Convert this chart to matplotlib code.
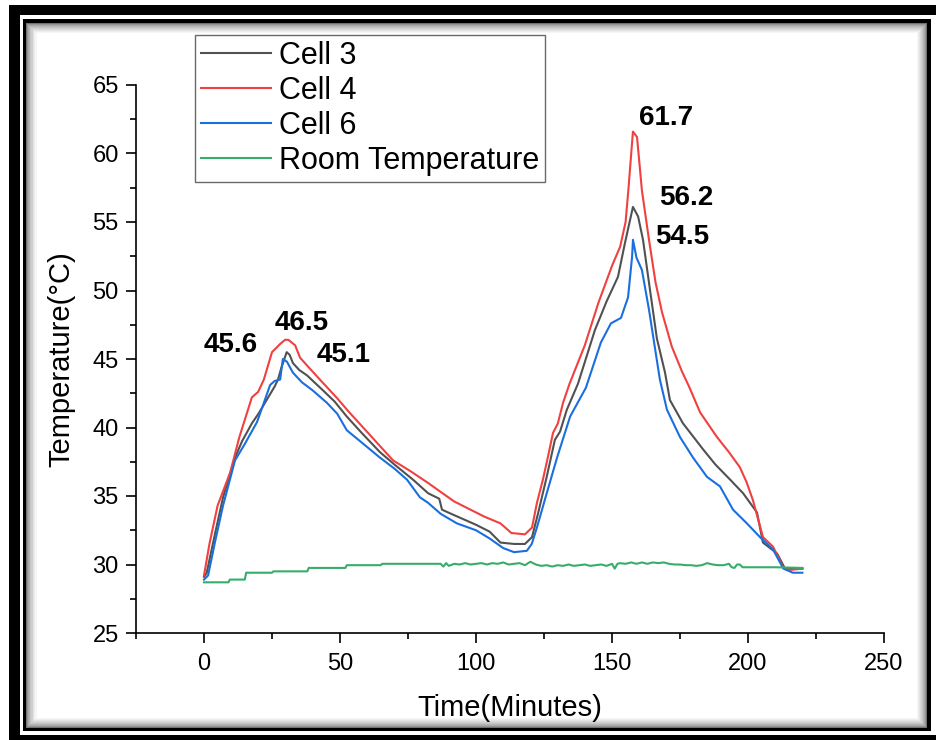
import matplotlib
matplotlib.use("Agg")
import matplotlib.pyplot as plt
from matplotlib.patches import Rectangle
from matplotlib.ticker import MultipleLocator

plt.rcParams['font.family'] = ['Liberation Sans', 'DejaVu Sans']

# ---- data ----
t_cell4 = [0, 2, 5, 9.6, 13, 17.6, 19.9, 22, 25, 28, 29.8, 31, 33.5, 35.3, 38, 42.6, 48.9, 53, 58.5,
           64, 69.5, 76, 82.4, 87, 92, 98, 103, 109, 113, 118, 120.6, 122.4, 124.6, 126.5, 128.3, 130.1,
           132, 134.4, 140, 145, 150, 153, 155, 156, 157.7, 159.2, 161, 163.6, 166, 168.4, 172, 175.7,
           178.3, 182.4, 188.6, 193, 197, 199.5, 201.8, 205.5, 209.2, 212.9, 215.4, 220]
cell4 = [29.2, 31.5, 34.3, 36.7, 39.3, 42.2, 42.6, 43.5, 45.5, 46.1, 46.4, 46.4, 46.0, 45.1, 44.5, 43.5, 42.15, 41.2, 40.0,
         38.8, 37.6, 36.8, 35.95, 35.3, 34.6, 34.0, 33.5, 33.0, 32.3, 32.2, 32.7, 34.5, 36.2, 37.9, 39.6, 40.3,
         41.8, 43.2, 46.0, 49.1, 51.8, 53.2, 55.0, 57.3, 61.6, 61.2, 57.3, 53.7, 50.6, 48.4, 45.9, 44.1,
         43.0, 41.1, 39.3, 38.2, 37.1, 36.0, 34.7, 32.0, 31.3, 29.8, 29.6, 29.7]

t_cell3 = [0, 1, 4, 7, 11.4, 14, 17.6, 20, 23, 26, 27.2, 28.5, 30.4, 31.5, 32.7, 35, 37.9, 43.8, 48, 52.5,
           58, 64.7, 70, 76.8, 82.4, 86.5, 87.5, 92, 100, 105, 109, 114, 118, 120.6, 122.9, 126, 129,
           130.9, 133.4, 137.5, 143.7, 148, 152.2, 154.8, 157.7, 159.6, 161.4, 164, 166.5, 169.5, 171.3,
           176.1, 183.5, 188, 193.4, 198.2, 203.3, 205.5, 210.7, 213.6, 220]
cell3 = [29.1, 29.4, 32.2, 34.9, 37.8, 39.0, 40.3, 41.0, 42.0, 43.0, 43.5, 44.4, 45.5, 45.3, 44.7, 44.2, 43.8, 42.7, 41.9, 40.8,
         39.6, 38.2, 37.3, 36.2, 35.2, 34.8, 34.0, 33.6, 32.9, 32.4, 31.6, 31.5, 31.5, 32.0, 33.8, 36.4, 39.1,
         39.7, 41.3, 43.2, 47.1, 49.2, 51.0, 53.5, 56.1, 55.4, 53.7, 50.0, 46.5, 44.0, 42.0,
         40.3, 38.4, 37.3, 36.2, 35.2, 33.8, 31.6, 30.8, 29.7, 29.7]

t_cell6 = [0, 1.5, 4, 7, 11.4, 15, 19.5, 22, 24.3, 26, 28, 29, 30.5, 32.7, 36, 40, 45.2, 49, 52.5, 58,
           64.7, 70, 74.6, 79.4, 82.4, 87, 93, 100, 105, 110, 114, 118.7, 120.5, 122.4, 126, 129.8, 134.6,
           140.4, 145.9, 149.6, 153.3, 155.9, 157.4, 157.7, 159, 161, 163.6, 167.6, 170.2, 175, 179.8,
           184.9, 189.7, 194.5, 199.6, 204.4, 209.2, 213, 216.5, 220]
cell6 = [28.9, 29.2, 31.6, 34.3, 37.6, 38.8, 40.4, 41.8, 43.1, 43.4, 43.5, 45.0, 44.8, 44.0, 43.3, 42.7, 41.8, 41.0, 39.8, 38.9,
         37.8, 37.0, 36.2, 34.9, 34.5, 33.7, 33.0, 32.5, 31.9, 31.2, 30.9, 31.0, 31.5, 32.7, 35.2, 37.8, 40.8,
         42.9, 46.2, 47.6, 48.0, 49.5, 52.5, 53.7, 52.4, 51.5, 48.6, 43.5, 41.3, 39.3, 37.8,
         36.4, 35.7, 34.0, 33.0, 32.0, 31.1, 29.7, 29.4, 29.4]

t_room = [0, 9, 9.5, 15, 15.5, 25, 25.5, 38, 38.5, 52, 52.5, 65, 65.5, 87, 88, 89, 90, 92, 94, 96, 98,
          100, 102, 104, 106, 108, 110, 112, 114, 116, 118, 120, 122, 124, 126, 128, 130, 132, 134, 136,
          138, 140, 142, 144, 146, 148, 150, 151, 152, 153, 155, 157, 159, 161, 163, 165, 167, 169, 171,
          173, 175, 177, 179, 181, 183, 185, 187, 189, 191, 193, 194, 195, 196, 197, 198, 210, 220]
room = [28.7, 28.7, 28.9, 28.9, 29.4, 29.4, 29.5, 29.5, 29.75, 29.75, 29.95, 29.95, 30.05, 30.05, 29.85, 30.1, 29.9, 30.05, 30.0, 30.1, 30.0,
        30.05, 30.1, 30.0, 30.1, 30.05, 30.15, 30.0, 30.05, 30.1, 29.95, 30.2, 30.0, 29.9, 29.95, 29.85, 29.95, 29.9, 30.0, 29.9,
        29.95, 30.0, 29.9, 29.95, 30.0, 29.9, 30.05, 29.7, 30.05, 30.1, 30.05, 30.15, 30.05, 30.15, 30.05, 30.15, 30.1, 30.15, 30.05,
        30.0, 30.0, 29.95, 29.95, 29.9, 29.95, 30.1, 30.0, 29.95, 29.95, 30.05, 29.8, 29.75, 30.0, 30.0, 29.8, 29.8, 29.75]

peak_text = ['45.6', '46.5', '45.1', '61.7', '56.2', '54.5']
peak_x = [9.9, 36.0, 51.5, 169.9, 177.2, 175.7]
peak_y = [46.0, 47.6, 45.3, 62.6, 56.75, 53.9]

W, H = 937, 740
fig = plt.figure(figsize=(W / 100, H / 100), dpi=100)


def px_rect(x0, y0, x1, y1, **kw):
    return Rectangle((x0 / W, 1 - y1 / H), (x1 - x0) / W, (y1 - y0) / H,
                     transform=fig.transFigure, **kw)


# outer black border
for r in [(9, 5, 20, 740), (9, 5, 937, 15), (9, 735, 937, 740)]:
    fig.add_artist(px_rect(*r, facecolor='black', edgecolor='none', zorder=0))
# inner frame with soft inner shadow
fig.add_artist(px_rect(23, 19, 931, 731, facecolor='black', edgecolor='none', zorder=0))
steps = 11
for i in range(steps):
    g = 0.45 + 0.55 * (i / (steps - 1)) ** 0.6
    d = 3.5 + i
    fig.add_artist(px_rect(23 + d, 19 + d, 931 - d, 731 - d,
                           facecolor=(g, g, g), edgecolor='none', zorder=0))

ax = fig.add_axes([136 / W, 1 - 633 / H, (884 - 136) / W, (633 - 85) / H])
ax.set_facecolor('none')

lw = 1.5
ax.plot(t_cell3, cell3, color='#515151', lw=lw, label='Cell 3')
ax.plot(t_cell4, cell4, color='#F14040', lw=lw, label='Cell 4')
ax.plot(t_cell6, cell6, color='#1A6FDF', lw=lw, label='Cell 6')
ax.plot(t_room, room, color='#37AD6B', lw=lw, label='Room Temperature')

for s, x, y in zip(peak_text, peak_x, peak_y):
    ax.text(x, y, s, ha='center', va='center', fontsize=20, fontweight='bold')

ax.set_xlim(-25, 250)
ax.set_ylim(25, 65)
ax.xaxis.set_major_locator(MultipleLocator(50))
ax.xaxis.set_minor_locator(MultipleLocator(25))
ax.yaxis.set_major_locator(MultipleLocator(5))
ax.yaxis.set_minor_locator(MultipleLocator(2.5))
ax.set_xticks([0, 50, 100, 150, 200, 250])
ax.spines['top'].set_visible(False)
ax.spines['right'].set_visible(False)
for sp in ['left', 'bottom']:
    ax.spines[sp].set_linewidth(1.2)
ax.tick_params(which='major', direction='out', length=7.5, width=1.2, labelsize=17)
ax.tick_params(which='minor', direction='out', length=4, width=1.2)
ax.tick_params(axis='x', which='major', pad=7)
ax.tick_params(axis='y', which='major', pad=5)

ax.set_xlabel('Time(Minutes)', fontsize=21)
ax.set_ylabel('Temperature(°C)', fontsize=21)
ax.xaxis.set_label_coords(0.5, -0.112)
ax.yaxis.set_label_coords(-0.081, 0.5)

leg = ax.legend(loc='upper left', bbox_to_anchor=(195 / W, 1 - 35 / H),
                bbox_transform=fig.transFigure, borderaxespad=0, fontsize=22,
                frameon=True, fancybox=False, edgecolor='#444444',
                handlelength=2.3, handletextpad=0.25, labelspacing=0.16, borderpad=0.2)
leg.get_frame().set_linewidth(1.0)

fig.savefig('out.png', dpi=100)
